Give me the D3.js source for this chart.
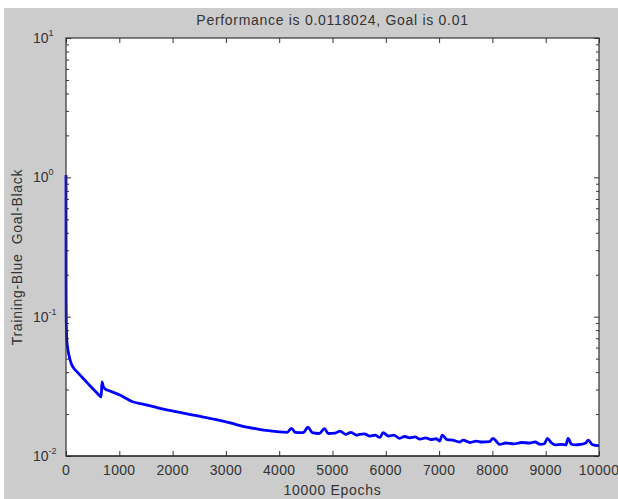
<!DOCTYPE html>
<html lang="en">
  <head>
    <meta charset="utf-8">
    <title>Training performance</title>
    <script src="https://d3js.org/d3.v7.js"></script>
    <style>
      body { margin: 0; background: #fff; }
      text { font-family: "Liberation Sans", Arial, sans-serif; fill: #333; white-space: pre; }
    </style>
  </head>

  <body>
    <svg></svg>

  <script>

// Training record

  var epochs = [0, 1, 2, 4, 8, 15, 30, 60, 100, 150, 200, 300, 400, 500, 600, 660, 675, 700, 750, 800,
                900, 1000, 1250, 1500, 1870, 2200, 2500, 2800, 3100, 3320, 3600, 3800, 4000, 4150, 4230, 4300,
                4450, 4540, 4620, 4750, 4850, 4920, 5050, 5140, 5250, 5350, 5450, 5510, 5600, 5700, 5800, 5890,
                5950, 6050, 6150, 6260, 6350, 6450, 6550, 6640, 6750, 6850, 6950, 7010, 7060, 7150, 7250, 7390,
                7450, 7580, 7700, 7800, 7950, 8010, 8140, 8250, 8400, 8550, 8700, 8800, 8900, 8980, 9030, 9100,
                9180, 9300, 9380, 9420, 9480, 9550, 9650, 9750, 9800, 9870, 9950, 10000];

  var perf = [1.04, 0.35, 0.15, 0.1, 0.08, 0.068, 0.06, 0.052, 0.046, 0.0425, 0.0405, 0.0368, 0.0335, 0.0305, 0.0279, 0.0265, 0.034, 0.0315, 0.030, 0.0295,
              0.0285, 0.0275, 0.0245, 0.0233, 0.0215, 0.0203, 0.0193, 0.0183, 0.0172, 0.0163, 0.0156, 0.0152, 0.0149, 0.0148, 0.0158, 0.0148,
              0.0147, 0.0161, 0.0147, 0.0145, 0.0157, 0.0145, 0.0146, 0.0151, 0.0143, 0.0148, 0.0141, 0.0143, 0.0144, 0.0139, 0.0141, 0.0136,
              0.0147, 0.0139, 0.0141, 0.0134, 0.0138, 0.0135, 0.0137, 0.0132, 0.0135, 0.0131, 0.0133, 0.0128, 0.0141, 0.0131, 0.0130, 0.0126,
              0.0130, 0.0125, 0.0128, 0.0126, 0.0127, 0.0134, 0.0121, 0.0124, 0.0122, 0.0125, 0.0124, 0.0126, 0.0121, 0.0123, 0.0134, 0.0125,
              0.0120, 0.0121, 0.0120, 0.0134, 0.0122, 0.0120, 0.0121, 0.0124, 0.0130, 0.0121, 0.0119, 0.0118];

  var goal = 0.01;
  var xTicks = [0, 1000, 2000, 3000, 4000, 5000, 6000, 7000, 8000, 9000, 10000];
  var yDecades = [-2, -1, 0, 1];

  var title = "Performance is 0.0118024, Goal is 0.01";
  var xTitle = "10000 Epochs";
  var yTitle = "Training-Blue  Goal-Black";

// Layout

  var w = 618;
  var h = 499;
  var margin = {top: 38, right: 19, bottom: 43, left: 66};
  var innerWidth = w - margin.left - margin.right;
  var innerHeight = h - margin.top - margin.bottom;

  var svg = d3.select("svg")
      .attr("width", w)
      .attr("height", h);

  svg.append("rect")
      .attr("x", 4)
      .attr("y", 8)
      .attr("width", w - 4)
      .attr("height", h - 8)
      .attr("fill", "#cccccc");

  var xScale = d3.scaleLinear()
      .domain([0, 10000])
      .range([0, innerWidth]);

  var yScale = d3.scaleLog()
      .domain([1e-2, 1e1])
      .range([innerHeight, 0]);

  var plot = svg.append("g")
      .attr("transform", `translate (${margin.left}, ${margin.top})`);

  plot.append("rect")
      .attr("width", innerWidth)
      .attr("height", innerHeight)
      .attr("fill", "#fff");

// ticks: majors and minors on all four sides, pointing in

  var majors = yDecades.map(e => Math.pow(10, e));
  var minors = [];
  yDecades.slice(0, -1).forEach(function(e) {
    for (var k = 2; k < 10; k++) minors.push(k * Math.pow(10, e));
  });

  function styleAxis(g) {
    g.select(".domain").remove();
    g.selectAll(".tick line").attr("stroke", "#333");
  }

  plot.append("g")
      .call(d3.axisBottom(xScale).tickValues(xTicks).tickSize(-5).tickFormat(""))
      .attr("transform", `translate (0, ${innerHeight})`)
      .call(styleAxis);
  plot.append("g")
      .call(d3.axisTop(xScale).tickValues(xTicks).tickSize(-5).tickFormat(""))
      .call(styleAxis);
  plot.append("g")
      .call(d3.axisLeft(yScale).tickValues(majors).tickSize(-5).tickFormat(""))
      .call(styleAxis);
  plot.append("g")
      .call(d3.axisLeft(yScale).tickValues(minors).tickSize(-3).tickFormat(""))
      .call(styleAxis);
  plot.append("g")
      .attr("transform", `translate (${innerWidth}, 0)`)
      .call(d3.axisRight(yScale).tickValues(majors).tickSize(-5).tickFormat(""))
      .call(styleAxis);
  plot.append("g")
      .attr("transform", `translate (${innerWidth}, 0)`)
      .call(d3.axisRight(yScale).tickValues(minors).tickSize(-3).tickFormat(""))
      .call(styleAxis);

// goal and training curves

  plot.append("line")
      .attr("x1", 0)
      .attr("x2", innerWidth)
      .attr("y1", yScale(goal))
      .attr("y2", yScale(goal))
      .attr("stroke", "#000")
      .attr("stroke-width", 1);

  var line = d3.line()
      .x((d, i) => xScale(epochs[i]))
      .y(d => yScale(d))
      .curve(d3.curveMonotoneX);

  plot.append("path")
      .datum(perf)
      .attr("d", line)
      .attr("fill", "none")
      .attr("stroke", "#0000ff")
      .attr("stroke-width", 2.8)
      .attr("stroke-linejoin", "round");

  plot.append("rect")
      .attr("width", innerWidth)
      .attr("height", innerHeight)
      .attr("fill", "none")
      .attr("stroke", "#333")
      .attr("stroke-width", 1.2);

// labels

  plot.selectAll(".xlab")
      .data(xTicks)
    .enter().append("text")
      .attr("class", "xlab")
      .attr("x", d => xScale(d))
      .attr("y", innerHeight + 19)
      .attr("text-anchor", "middle")
      .attr("font-size", 14)
      .attr("letter-spacing", 0.3)
      .text(d => d);

  var ylab = plot.selectAll(".ylab")
      .data(yDecades)
    .enter().append("text")
      .attr("class", "ylab")
      .attr("x", -33)
      .attr("y", d => yScale(Math.pow(10, d)) + 5)
      .attr("font-size", 14);
  ylab.append("tspan").text("10");
  ylab.append("tspan")
      .attr("dy", -7)
      .attr("font-size", 9)
      .text(d => d);

  svg.append("text")
      .attr("x", margin.left + innerWidth / 2)
      .attr("y", 25)
      .attr("text-anchor", "middle")
      .attr("font-size", 14)
      .attr("letter-spacing", 0.7)
      .text(title);

  svg.append("text")
      .attr("x", margin.left + innerWidth / 2)
      .attr("y", 495)
      .attr("text-anchor", "middle")
      .attr("font-size", 14)
      .attr("letter-spacing", 0.7)
      .text(xTitle);

  svg.append("text")
      .attr("transform", `translate (22, ${margin.top + innerHeight / 2 + 10}) rotate(-90)`)
      .attr("text-anchor", "middle")
      .attr("font-size", 14)
      .attr("letter-spacing", 0.7)
      .text(yTitle);

    </script>

  </body>

</html>
